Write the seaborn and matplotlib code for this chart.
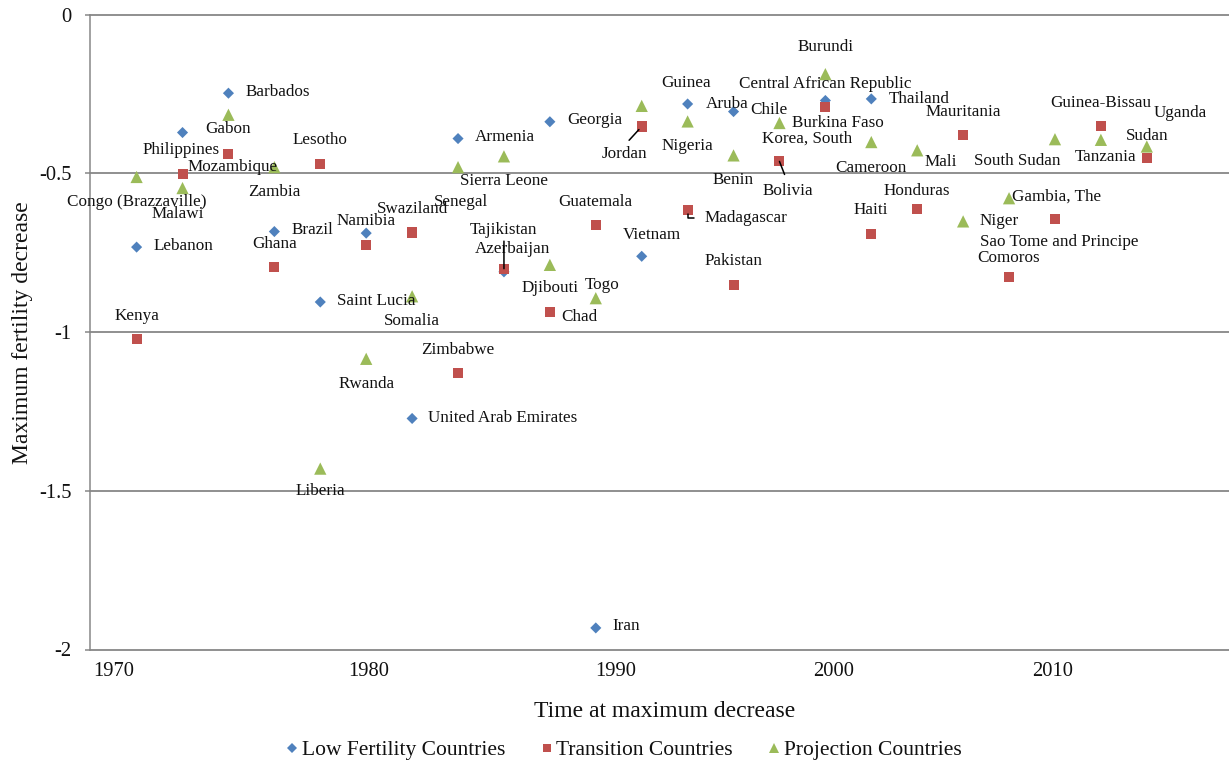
import matplotlib
matplotlib.use("Agg")
import matplotlib.pyplot as plt
from matplotlib.lines import Line2D
import pandas as pd
import seaborn as sns

# ---- data -------------------------------------------------------------
GROUPS = ["Low Fertility Countries", "Transition Countries", "Projection Countries"]

low_years = [1971, 1973, 1975, 1977, 1979, 1981, 1983, 1985, 1987, 1989,
             1991, 1993, 1995, 1997, 2001, 2003]
low_values = [-0.732, -0.371, -0.247, -0.683, -0.905, -0.688, -1.272, -0.390,
              -0.810, -0.337, -1.932, -0.761, -0.281, -0.305, -0.270, -0.265]
low_names = ["Lebanon", "Philippines", "Barbados", "Brazil", "Saint Lucia", "",
             "United Arab Emirates", "Armenia", "Azerbaijan", "Georgia", "Iran",
             "Vietnam", "Aruba", "Chile", "Korea, South", "Thailand"]

trans_years = [1971, 1973, 1975, 1977, 1979, 1981, 1983, 1985, 1987, 1989, 1991,
               1993, 1995, 1997, 1999, 2001, 2003, 2005, 2007, 2009, 2011, 2013, 2015]
trans_values = [-1.021, -0.501, -0.438, -0.795, -0.469, -0.725, -0.686, -1.129,
                -0.800, -0.938, -0.662, -0.352, -0.614, -0.852, -0.462, -0.291,
                -0.690, -0.612, -0.380, -0.825, -0.644, -0.350, -0.450]
trans_names = ["Kenya", "Mozambique", "Gabon", "Ghana", "Lesotho", "Namibia",
               "Swaziland", "Zimbabwe", "Tajikistan", "Chad", "Guatemala", "Jordan",
               "Madagascar", "Pakistan", "Bolivia", "Central African Republic",
               "Haiti", "Honduras", "Mauritania", "Comoros",
               "Sao Tome and Principe", "Guinea-Bissau", "Tanzania"]

proj_years = [1971, 1973, 1975, 1977, 1979, 1981, 1983, 1985, 1987, 1989, 1991,
              1993, 1995, 1997, 1999, 2001, 2003, 2005, 2007, 2009, 2011, 2013, 2015]
proj_values = [-0.511, -0.546, -0.315, -0.480, -1.430, -1.084, -0.887, -0.480,
               -0.446, -0.788, -0.893, -0.287, -0.336, -0.443, -0.341, -0.187,
               -0.401, -0.427, -0.651, -0.578, -0.392, -0.394, -0.415]
proj_names = ["Congo (Brazzaville)", "Malawi", "", "Zambia", "Liberia", "Rwanda",
              "Somalia", "Senegal", "Sierra Leone", "Djibouti", "Togo", "Guinea",
              "Nigeria", "Benin", "Burkina Faso", "Burundi", "Cameroon", "Mali",
              "Niger", "Gambia, The", "South Sudan", "Uganda", "Sudan"]

x_tick_pos = [1970, 1981.1, 1991.85, 2001.35, 2010.9]
x_tick_labels = ["1970", "1980", "1990", "2000", "2010"]
y_ticks = [0, -0.5, -1, -1.5, -2]
y_tick_labels = ["0", "-0.5", "-1", "-1.5", "-2"]

# ---- styling ----------------------------------------------------------
palette = dict(zip(GROUPS, ["#4F81BD", "#C0504D", "#9BBB59"]))
markers = dict(zip(GROUPS, ["D", "s", "^"]))
sizes = dict(zip(GROUPS, [32, 52, 78]))

# default label placement per series: (dx, dy, ha) in pixels, dy up
default_pos = {GROUPS[0]: (17, 0, "left"),
               GROUPS[1]: (0, 22, "center"),
               GROUPS[2]: (0, -26, "center")}
label_pos = {
    "Philippines": (-1, -19, "center"), "United Arab Emirates": (16, -1, "left"),
    "Azerbaijan": (8.4, 21.3, "center"), "Vietnam": (10, 19.4, "center"),
    "Aruba": (18, -1.4, "left"), "Korea, South": (-18, -39.3, "center"),
    "Thailand": (17.6, -1.7, "left"),
    "Kenya": (0, 21.3, "center"), "Mozambique": (5, 5.7, "left"),
    "Gabon": (0, 23, "center"), "Tajikistan": (0, 37.3, "center"),
    "Chad": (11, -5.8, "left"), "Guatemala": (0, 21, "center"),
    "Jordan": (-17.5, -28.6, "center"), "Madagascar": (16.6, -10, "left"),
    "Pakistan": (0, 23, "center"), "Bolivia": (8.4, -31, "center"),
    "Central African Republic": (0, 21.3, "center"), "Honduras": (0, 17, "center"),
    "Comoros": (0, 17, "center"), "Sao Tome and Principe": (4.3, -24.7, "center"),
    "Guinea-Bissau": (0, 21, "center"), "Tanzania": (-10, -1.3, "right"),
    "Congo (Brazzaville)": (0, -26.7, "center"), "Malawi": (-5, -27.7, "center"),
    "Liberia": (0, -24.3, "center"), "Rwanda": (0, -27, "center"),
    "Senegal": (2.7, -36.7, "center"), "Djibouti": (0, -24.3, "center"),
    "Togo": (6, 11.2, "center"), "Guinea": (44, 21, "center"),
    "Burkina Faso": (12.4, -1, "left"), "Burundi": (0, 26, "center"),
    "Cameroon": (0, -27.7, "center"), "Mali": (7.7, -13.3, "left"),
    "Niger": (16.7, -1, "left"), "Gambia, The": (3.2, 0, "left"),
    "South Sudan": (6, -23.7, "right"), "Uganda": (52.3, 25, "left"),
    "Sudan": (0, 9.4, "center"),
}
# leader lines joining a moved label back to its point
leaders = {
    "Tajikistan": dict(relpos=(0.5, 0.0), shrinkA=0, shrinkB=0),
    "Jordan": dict(relpos=(0.5, 1.0), shrinkA=2, shrinkB=3),
    "Bolivia": dict(relpos=(0.5, 1.0), shrinkA=4, shrinkB=0),
    "Madagascar": dict(relpos=(0.0, 0.5), shrinkA=5, shrinkB=3,
                       connectionstyle="angle,angleA=0,angleB=90,rad=0"),
}

GRID = "#878787"
TEXT = "#111111"

sns.set_theme(style="white")
plt.rcParams["font.family"] = ["Liberation Serif", "DejaVu Serif"]

df = pd.concat([
    pd.DataFrame({"year": low_years, "value": low_values, "name": low_names, "group": GROUPS[0]}),
    pd.DataFrame({"year": trans_years, "value": trans_values, "name": trans_names, "group": GROUPS[1]}),
    pd.DataFrame({"year": proj_years, "value": proj_values, "name": proj_names, "group": GROUPS[2]}),
], ignore_index=True)

W, H = 1229, 763
fig = plt.figure(figsize=(W / 100, H / 100), dpi=100)
ax = fig.add_axes([90 / W, 1 - 649.5 / H, (W - 90) / W, (649.5 - 14.8) / H])

sns.scatterplot(data=df, x="year", y="value", hue="group", style="group",
                size="group", palette=palette, markers=markers, sizes=sizes,
                linewidth=0, legend=False, ax=ax, zorder=3)

ax.set_xlim(1968.97, 2018.58)
ax.set_ylim(-2, 0)

ax.set_yticks(y_ticks)
ax.set_yticklabels(y_tick_labels)
ax.set_xticks(x_tick_pos)
ax.set_xticklabels(x_tick_labels)
ax.yaxis.grid(True, color=GRID, linewidth=1.3, clip_on=False)
ax.xaxis.grid(False)
ax.tick_params(axis="y", left=True, length=3.6, width=1.1, color=GRID,
               pad=9.6, labelsize=14.8, labelcolor=TEXT)
ax.tick_params(axis="x", bottom=True, length=0, pad=9, labelsize=14.8,
               labelcolor=TEXT)
for side in ["top", "right", "bottom"]:
    ax.spines[side].set_visible(False)
ax.spines["left"].set_color(GRID)
ax.spines["left"].set_linewidth(1.1)

ax.set_xlabel("Time at maximum decrease", fontsize=17, color=TEXT)
ax.set_ylabel("Maximum fertility decrease", fontsize=17, color=TEXT)
ax.xaxis.set_label_coords((665 - 90) / (W - 90), -0.0815)
ax.yaxis.set_label_coords(-0.050, 0.5)

# data labels
for _, row in df.iterrows():
    if not row["name"]:
        continue
    dx, dy, ha = label_pos.get(row["name"], default_pos[row["group"]])
    kw = {}
    if row["name"] in leaders:
        kw["arrowprops"] = dict(arrowstyle="-", color="black", lw=1.1,
                                **leaders[row["name"]])
    ax.annotate(row["name"], (row["year"], row["value"]),
                xytext=(dx, dy + 1.5), textcoords="offset pixels",
                ha=ha, va="center", fontsize=12.3, color=TEXT, zorder=4,
                annotation_clip=False, **kw)

# legend along the bottom
handles = [Line2D([], [], linestyle="none", marker=markers[g], color=palette[g],
                  markeredgewidth=0, markersize=ms)
           for g, ms in zip(GROUPS, [4.8, 5.8, 7.0])]
fig.legend(handles, GROUPS, loc="center", bbox_to_anchor=(625 / W, 1 - 750 / H),
           ncol=3, frameon=False, fontsize=15.5, handlelength=0.4,
           handletextpad=0.25, columnspacing=1.72, labelcolor=TEXT)

fig.savefig("out.png", dpi=100)
